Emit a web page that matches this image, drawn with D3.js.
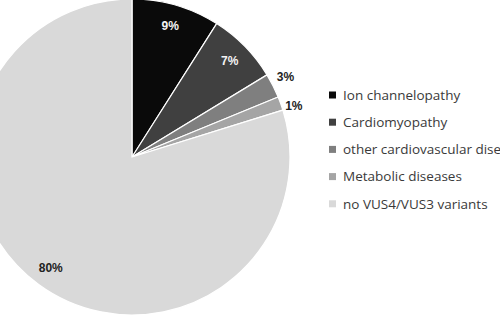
<!DOCTYPE html>
<html>
<head>
<meta charset="utf-8">
<script src="https://cdn.jsdelivr.net/npm/d3@7"></script>
<style>
  body { margin: 0; background: #fff; overflow: hidden; }
  svg { display: block; }
</style>
</head>
<body>
<svg id="chart" width="500" height="319"></svg>
<script>
// Slice data
var categories = ["Ion channelopathy", "Cardiomyopathy", "other cardiovascular diseases", "Metabolic diseases", "no VUS4/VUS3 variants"];
var shares = [9.0, 7.3, 2.5, 1.4, 79.8];
var sliceLabels = ["9%", "7%", "3%", "1%", "80%"];
var colors = ["#0a0a0a", "#404040", "#7f7f7f", "#a5a5a5", "#d9d9d9"];

var svg = d3.select("#chart");
var cx = 132, cy = 157, radius = 158;

var pie = d3.pie().sort(null).value(function(d) { return d; });
var arcs = pie(shares);
var arc = d3.arc().innerRadius(0).outerRadius(radius);

var g = svg.append("g").attr("transform", "translate(" + cx + "," + cy + ")");

g.selectAll("path.slice")
    .data(arcs)
    .enter().append("path")
    .attr("class", "slice")
    .attr("d", arc)
    .attr("fill", function(d, i) { return colors[i]; })
    .attr("stroke", "#fff")
    .attr("stroke-width", 1.2);

// inside labels for big slices, outside for the thin ones
var insideArc = d3.arc().innerRadius(137).outerRadius(137);
var outsideArc = d3.arc().innerRadius(172).outerRadius(172);
var nudge = [0, 0, -3, 7, 0];

g.selectAll("text.pct")
    .data(arcs)
    .enter().append("text")
    .attr("class", "pct")
    .attr("transform", function(d, i) {
        var small = d.value < 5;
        var p = (small ? outsideArc : insideArc).centroid(d);
        return "translate(" + p[0] + "," + (p[1] + nudge[i]) + ")";
    })
    .attr("text-anchor", "middle")
    .attr("dy", "0.35em")
    .attr("font-family", "'Liberation Sans', Arial, sans-serif")
    .attr("font-weight", "bold")
    .attr("font-size", 12)
    .attr("fill", function(d, i) { return i < 2 ? "#f4f4f4" : "#222"; })
    .text(function(d, i) { return sliceLabels[i]; });

// legend (the long entry runs off the right edge, as in the original)
var legend = svg.append("g").attr("transform", "translate(329,95)");
var row = legend.selectAll("g")
    .data(categories)
    .enter().append("g")
    .attr("transform", function(d, i) { return "translate(0," + (i * 27.2) + ")"; });

row.append("rect")
    .attr("x", 0).attr("y", -3.5)
    .attr("width", 7).attr("height", 7)
    .attr("fill", function(d, i) { return colors[i]; });

row.append("text")
    .attr("x", 14)
    .attr("dy", "0.35em")
    .attr("font-family", "'Open Sans', sans-serif")
    .attr("font-size", 13.5)
    .attr("fill", "#3a3a3a")
    .text(function(d) { return d; });
</script>
</body>
</html>
